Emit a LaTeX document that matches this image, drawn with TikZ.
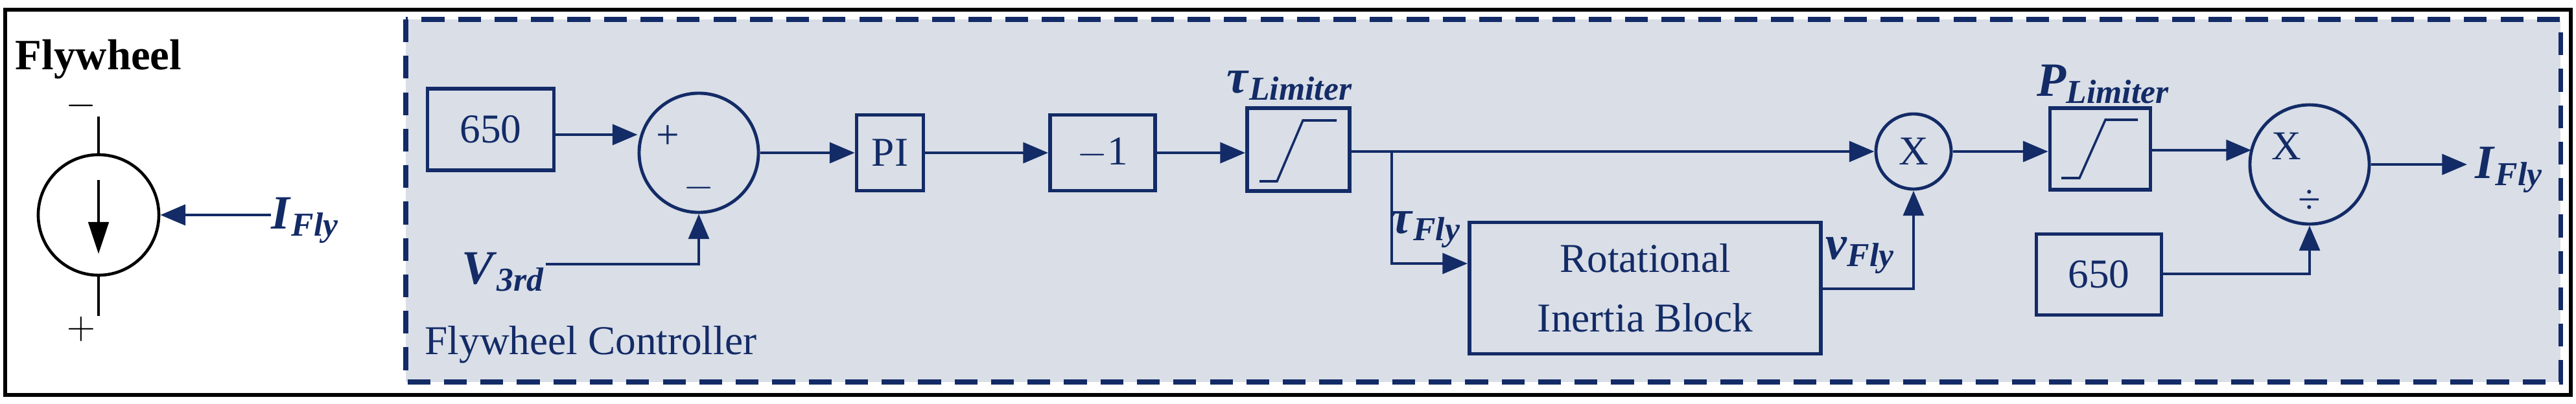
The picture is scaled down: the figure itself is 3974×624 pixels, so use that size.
\documentclass[tikz,border=0pt]{standalone}
\usepackage{fontspec}
\setmainfont{Liberation Serif}
\newfontfamily\tnr{Liberation Serif}
\usetikzlibrary{arrows.meta}
\definecolor{nv}{HTML}{132B66}
\definecolor{bg}{HTML}{D9DEE7}
\newcommand{\lb}[2]{\textbf{\textit{#1}}\textsubscript{\textbf{\textit{#2}}}}
\begin{document}
\begin{tikzpicture}[x=0.01cm,y=-0.01cm,
  every node/.style={font=\tnr\fontsize{18}{20}\selectfont,text=nv,inner sep=0},
  blk/.style={draw=nv,line width=1.6pt,fill=bg,inner sep=0},
  sig/.style={draw=nv,line width=1.3pt,-{Triangle[length=11pt,width=9pt]}},
  lbl/.style={font=\tnr\fontsize{21}{22}\selectfont}]
\useasboundingbox (0,0) rectangle (3974,624);
\draw[line width=1.8pt] (8,15) rectangle (3966,610);
\draw[nv,fill=bg,line width=2pt,dash pattern=on 10pt off 6pt] (626,30) rectangle (3950,590);
% flywheel source
\node[font=\tnr\fontsize{19}{20}\selectfont\bfseries,text=black] (fw) at (152,92) {Flywheel};
\node[draw,black,line width=1.3pt,circle,minimum size=1.86cm] (src) at (152,332) {};
\node[text=black] (mn) at (125,163) {$-$};
\node[text=black] (pl) at (125,508) {$+$};
\coordinate (t1) at (152,180); \coordinate (b1) at (152,488);
\draw[line width=1pt] (t1) -- (src.north) (src.south) -- (b1);
\coordinate (ai) at (152,278); \coordinate (ao) at (152,392);
\draw[line width=1pt,-{Triangle[length=14pt,width=9pt]}] (ai) -- (ao);
\node[lbl,anchor=west] (if1) at (418,340) {\lb{I}{Fly}};
\draw[sig] (if1.west|-src.east) -- (src.east);
% controller
\node[blk,minimum width=1.95cm,minimum height=1.26cm] (c1) at (757,200) {650};
\node[draw=nv,line width=1.4pt,fill=bg,circle,minimum size=1.84cm] (sum) at (1078,236) {};
\node (sp) at (1030,212) {+};
\node (sm) at (1078,290) {$-$};
\node[lbl,anchor=west] (v3) at (712,420) {\lb{V}{3rd}};
\coordinate (v3c) at (1078,408);
\draw[sig] (v3.east|-v3c) -- (v3c) -- (sum.south);
\draw[sig] (c1.east|-0,208) -- (sum.west|-0,208);
\node[blk,minimum width=1.03cm,minimum height=1.17cm] (pi) at (1373,236) {PI};
\node[blk,minimum width=1.62cm,minimum height=1.17cm] (n1) at (1701,236) {$-$1};
\node[blk,minimum width=1.58cm,minimum height=1.28cm] (l1) at (2003,231) {};
\draw[nv,line width=1pt] (1943,280) -- (1970,280) -- (2010,186) -- (2062,186);
\node[lbl] (tl) at (1990,132) {\lb{τ}{Limiter}};
\draw[sig] (sum.east) -- (pi.west);
\draw[sig] (pi.east) -- (n1.west);
\draw[sig] (n1.east) -- (l1.west|-n1);
\node[draw=nv,line width=1.4pt,fill=bg,circle,minimum size=1.16cm] (mul) at (2952,234) {X};
\draw[sig] (l1.east|-mul) -- (mul.west);
\coordinate (br) at (2147,234);
\node[blk,minimum width=5.42cm,minimum height=2.03cm,align=center] (rib) at (2538,445) {Rotational\\[6pt]Inertia Block};
\draw[sig] (br) |- (rib.west|-0,407);
\node[lbl] (tf) at (2200,355) {\lb{τ}{Fly}};
\node[lbl] (vf) at (2870,395) {\lb{v}{Fly}};
\coordinate (vc) at (2952,446);
\draw[sig] (rib.east|-vc) -- (vc) -- (mul.south);
\node[blk,minimum width=1.55cm,minimum height=1.26cm] (l2) at (3240,230) {};
\draw[nv,line width=1pt] (3180,275) -- (3208,275) -- (3248,185) -- (3298,185);
\node[lbl] (pll) at (3245,130) {\lb{P}{Limiter}};
\draw[sig] (mul.east) -- (l2.west|-mul);
\node[draw=nv,line width=1.4pt,fill=bg,circle,minimum size=1.84cm] (div) at (3563,254) {};
\node (xx) at (3527,226) {X};
\node (dv) at (3563,312) {÷};
\coordinate (dl) at (3473,232);
\draw[sig] (l2.east|-dl) -- (dl);
\node[blk,minimum width=1.93cm,minimum height=1.25cm] (c2) at (3238,424) {650};
\coordinate (c2c) at (3563,423);
\draw[sig] (c2.east|-c2c) -- (c2c) -- (div.south);
\coordinate (io) at (3806,254);
\draw[sig] (div.east) -- (io);
\node[lbl,anchor=west] (if2) at (3818,262) {\lb{I}{Fly}};
\node[anchor=west] (fc) at (655,532) {Flywheel Controller};
\end{tikzpicture}
\end{document}
